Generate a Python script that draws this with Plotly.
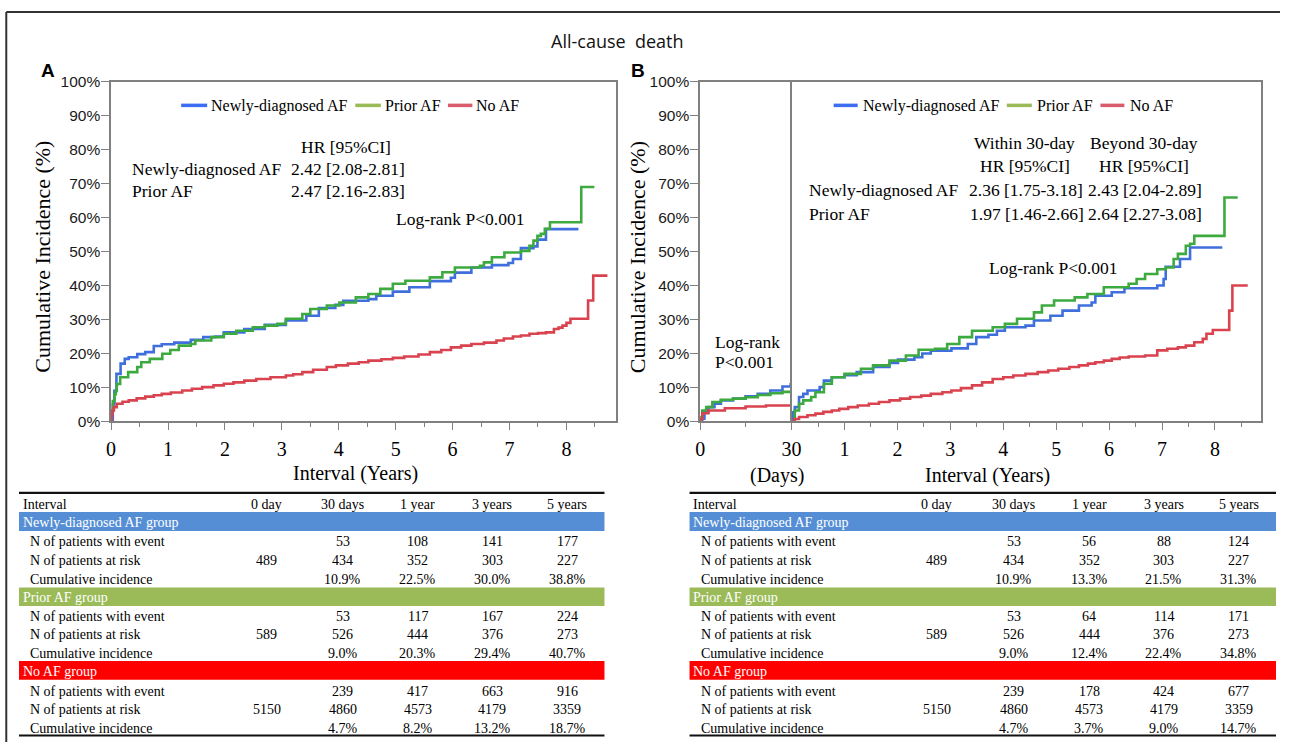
import plotly.graph_objects as go

# ---------------- data ----------------
# Panel A: whole follow-up, years
A_new_t = [0, 0.03, 0.058, 0.094, 0.167, 0.24, 0.31, 0.46, 0.6, 0.75, 0.89, 1.11, 1.4, 1.62, 1.83, 1.98, 2.34, 2.7,
           3.07, 3.43, 3.65, 3.94, 4.08, 4.52, 4.66, 4.95, 5.24, 5.6, 5.97, 6.04, 6.33, 6.69, 6.98, 7.06, 7.2, 7.42,
           7.49, 7.64, 8.21]
A_new_v = [0, 5, 9, 14, 17, 18.4, 18.9, 19.8, 20.4, 22.2, 22.7, 23.2, 24, 24.8, 25, 26.2, 27.2, 28.4,
           29.7, 31.1, 33.4, 34.3, 35.5, 36, 37, 38.2, 39.5, 41.3, 42.3, 43.8, 45.3, 46, 46.6, 47.8, 51, 51.5,
           53.5, 56.6, 56.6]

A_prior_t = [0, 0.01, 0.03, 0.06, 0.082, 0.1, 0.16, 0.3, 0.46, 0.53, 0.68, 0.9, 1.04, 1.19, 1.4, 1.48, 1.76, 1.98,
             2.2, 2.49, 2.7, 2.92, 3.07, 3.36, 3.5, 3.79, 4.01, 4.3, 4.52, 4.73, 4.95, 5.17, 5.6, 5.82, 6.04, 6.48,
             6.55, 6.69, 6.91, 7.2, 7.35, 7.42, 7.49, 7.55, 7.62, 7.71, 8.26, 8.49]
A_prior_v = [0, 3, 6, 8, 9, 11, 13, 14.5, 16, 17.4, 18.4, 19.9, 21, 22.3, 22.8, 23.8, 24.8, 25.8,
             26.7, 27.7, 28.2, 28.7, 30.2, 31.6, 33.1, 34.1, 35, 36.5, 37.5, 39, 40.5, 41.4, 42.4, 43.9, 45.3, 45.8,
             46.8, 48.3, 49.7, 50.2, 51.7, 53.2, 54.6, 55.2, 56.7, 58.6, 69, 69]

A_none_t = [0, 0.01, 0.02, 0.05, 0.1, 0.2, 0.31, 0.45, 0.6, 0.75, 0.89, 1.05, 1.25, 1.42, 1.6, 1.8, 1.98, 2.15,
            2.34, 2.55, 2.8, 3.07, 3.2, 3.36, 3.55, 3.79, 3.95, 4.16, 4.35, 4.52, 4.75, 4.95, 5.15, 5.4, 5.6, 5.8,
            5.97, 6.15, 6.33, 6.55, 6.77, 6.9, 7.06, 7.2, 7.35, 7.5, 7.64, 7.78, 7.86, 7.93, 8.0, 8.07, 8.38, 8.47,
            8.72]
A_none_v = [0, 2.0, 3.2, 4.2, 5.2, 5.8, 6.2, 6.8, 7.3, 7.7, 8.1, 8.5, 9.1, 9.6, 10.1, 10.6, 11.1, 11.5,
            12.0, 12.5, 13.0, 13.5, 13.9, 14.5, 15.2, 16.0, 16.5, 17.0, 17.4, 17.9, 18.3, 18.7, 19.1, 19.7, 20.4, 21.0,
            21.8, 22.3, 22.8, 23.2, 23.8, 24.4, 25.0, 25.3, 25.8, 26.0, 26.2, 27.2, 27.6, 28.2, 29.0, 30.2, 35.6, 42.9,
            42.9]

# Panel B: within 30 days (days)
Bd_new_t = [0, 0.7, 1.4, 2.7, 4.7, 6.8, 10.8, 14.9, 18.9, 23, 27, 29.7, 30]
Bd_new_v = [0, 0.8, 2.7, 4.2, 5.2, 6.2, 6.7, 7.4, 8.1, 9.1, 10.3, 10.9, 10.9]
Bd_prior_t = [0, 0.3, 0.7, 2, 4, 6.8, 10.8, 14.9, 18.9, 23, 27, 30]
Bd_prior_v = [0, 1.3, 3.2, 4.2, 5.7, 6.4, 6.7, 7.1, 7.8, 8.3, 8.7, 9.0]
Bd_none_t = [0, 0.3, 0.7, 2.7, 8.1, 14.9, 21.6, 30]
Bd_none_v = [0, 0.8, 2.4, 3.2, 3.9, 4.4, 4.7, 4.8]

# Panel B: beyond 30 days (years)
By_new_t = [0, 0.02, 0.06, 0.14, 0.22, 0.3, 0.53, 0.61, 0.76, 1.0, 1.23, 1.54, 1.85, 2.01, 2.32, 2.47, 2.63, 3.02,
            3.33, 3.49, 3.72, 3.88, 4.03, 4.42, 4.58, 4.89, 5.12, 5.43, 5.67, 5.74, 6.05, 6.29, 6.91, 7.03, 7.07, 7.34,
            7.53, 8.14]
By_new_v = [0, 2.7, 4.2, 7.2, 8.1, 9.1, 10.1, 12, 13.0, 13.6, 14.5, 16.0, 17.2, 18.2, 18.9, 20.0, 20.8, 21.5,
            22.8, 24.8, 25.5, 26.7, 27.7, 28.2, 29.7, 31.1, 32.6, 34.1, 35, 37, 38, 39.2, 40, 41.9, 45.5, 47.8,
            51.2, 51.2]
By_prior_t = [0, 0.06, 0.14, 0.22, 0.37, 0.45, 0.61, 0.76, 1.0, 1.31, 1.54, 1.85, 2.16, 2.4, 2.71, 2.94, 3.17, 3.41,
              3.8, 4.03, 4.26, 4.58, 4.73, 4.96, 5.35, 5.59, 5.9, 6.37, 6.52, 6.68, 6.91, 7.07, 7.22, 7.3, 7.45, 7.53,
              7.61, 8.18, 8.43]
By_prior_v = [0, 3.2, 5.2, 6.2, 7.2, 8.6, 11.1, 13.0, 14.0, 15.5, 16.5, 17.9, 19.4, 21.1, 21.4, 22.8, 24.8, 26.7,
              27.7, 28.7, 30.2, 32.1, 34.1, 35.6, 36.5, 37.5, 39.5, 40.5, 41.9, 43.4, 44.8, 45.3, 47.8, 49.3, 51.7, 52.3,
              54.6, 65.9, 65.9]
By_none_t = [0, 0.05, 0.14, 0.3, 0.45, 0.6, 0.76, 0.9, 1.07, 1.25, 1.46, 1.65, 1.85, 2.05, 2.24, 2.45, 2.63, 2.85,
             3.02, 3.2, 3.41, 3.6, 3.8, 4.0, 4.19, 4.42, 4.65, 4.85, 5.04, 5.25, 5.43, 5.6, 5.74, 5.9, 6.05, 6.2, 6.37,
             6.68, 6.91, 7.1, 7.3, 7.45, 7.61, 7.77, 7.84, 7.96, 8.27, 8.33, 8.62]
By_none_v = [0, 0.7, 1.3, 1.8, 2.3, 2.8, 3.2, 3.7, 4.2, 4.7, 5.2, 5.7, 6.2, 6.7, 7.2, 7.6, 8.1, 8.6,
             9.1, 9.8, 10.6, 11.5, 12.5, 13.0, 13.5, 14.0, 14.5, 15.0, 15.5, 16.0, 16.5, 17.0, 17.4, 17.9, 18.4, 18.8,
             19.1, 19.4, 20.9, 21.4, 21.8, 22.3, 23.3, 24.3, 25.8, 26.9, 32.6, 40, 40]

series_names = ["Newly-diagnosed AF", "Prior AF", "No AF"]

# Tables
table_cols = ["0 day", "30 days", "1 year", "3 years", "5 years"]
row_labels = ["N of patients with event", "N of patients at risk", "Cumulative incidence"]
group_labels = ["Newly-diagnosed AF group", "Prior AF group", "No AF group"]

tabA_new = [["", "53", "108", "141", "177"], ["489", "434", "352", "303", "227"], ["", "10.9%", "22.5%", "30.0%", "38.8%"]]
tabA_prior = [["", "53", "117", "167", "224"], ["589", "526", "444", "376", "273"], ["", "9.0%", "20.3%", "29.4%", "40.7%"]]
tabA_none = [["", "239", "417", "663", "916"], ["5150", "4860", "4573", "4179", "3359"], ["", "4.7%", "8.2%", "13.2%", "18.7%"]]
tabB_new = [["", "53", "56", "88", "124"], ["489", "434", "352", "303", "227"], ["", "10.9%", "13.3%", "21.5%", "31.3%"]]
tabB_prior = [["", "53", "64", "114", "171"], ["589", "526", "444", "376", "273"], ["", "9.0%", "12.4%", "22.4%", "34.8%"]]
tabB_none = [["", "239", "178", "424", "677"], ["5150", "4860", "4573", "4179", "3359"], ["", "4.7%", "3.7%", "9.0%", "14.7%"]]

# ---------------- styling ----------------
W, H = 1290, 750
# the page shows the figure inside an 8 px inset; map screen pixels to paper fractions accordingly
OX, OY, SW, SH = 8.0, 8.0, 1274.0, 734.0
def px(x): return (x - OX) / SW
def py(y): return 1 - (y - OY) / SH

SERIF = "Liberation Serif, Times New Roman, serif"
SANS = "Liberation Sans, Arial, sans-serif"
C_LINE = ["#3F6FDC", "#3DAA3F", "#D9434F"]
C_LEG = ["#3D6DF2", "#9BBB59", "#D95B6C"]
C_BAND = ["#558ED5", "#9BBB59", "#FF0000"]
AX = "#808080"

fig = go.Figure()

def add(t, v, i, xa, ya):
    fig.add_trace(go.Scatter(x=t, y=v, mode="lines", line=dict(color=C_LINE[i], width=2.6, shape="hv"),
                             name=series_names[i], xaxis=xa, yaxis=ya, showlegend=False, hoverinfo="x+y"))

for i, (t, v) in enumerate([(A_new_t, A_new_v), (A_prior_t, A_prior_v), (A_none_t, A_none_v)]):
    add(t, v, i, "x", "y")
for i, (t, v) in enumerate([(Bd_new_t, Bd_new_v), (Bd_prior_t, Bd_prior_v), (Bd_none_t, Bd_none_v)]):
    add(t, v, i, "x2", "y2")
for i, (t, v) in enumerate([(By_new_t, By_new_v), (By_prior_t, By_prior_v), (By_none_t, By_none_v)]):
    add(t, v, i, "x3", "y3")

ydom = [py(421), py(80.7)]
xtickfont = dict(family=SERIF, size=20, color="black")
ytickfont = dict(family=SANS, size=15.5, color="#1a1a1a")
common_x = dict(showline=True, linecolor=AX, linewidth=1.6, mirror=True, ticks="outside", ticklen=7,
                tickwidth=1.4, tickcolor=AX, showgrid=False, zeroline=False, tickfont=xtickfont,
                ticklabelstandoff=2)
common_y = dict(domain=ydom, range=[0, 100], showline=True, linecolor=AX, linewidth=1.6,
                showgrid=False, zeroline=False)

fig.update_layout(
    width=W, height=H, autosize=False, margin=dict(l=0, r=0, t=0, b=0),
    paper_bgcolor="white", plot_bgcolor="white", showlegend=False,
    xaxis=dict(domain=[px(114), px(618.5)], range=[0, 8.87], anchor="y", dtick=1, tick0=0,
               minor=dict(dtick=0.5, tick0=0, ticks="outside", ticklen=4, tickcolor=AX, tickwidth=1.4),
               **common_x),
    yaxis=dict(anchor="x", ticks="outside", ticklen=8, tickwidth=1.4, tickcolor=AX, dtick=10, mirror=True,
               ticksuffix="%", tickfont=ytickfont, ticklabelstandoff=-2, **common_y),
    xaxis2=dict(domain=[px(702.6), px(794)], range=[0, 30], anchor="y2", dtick=30, tick0=0,
                minor=dict(dtick=15, tick0=0, ticks="outside", ticklen=4, tickcolor=AX, tickwidth=1.4),
                **common_x),
    yaxis2=dict(anchor="x2", ticks="outside", ticklen=8, tickwidth=1.4, tickcolor=AX, dtick=10, mirror=False,
                ticksuffix="%", tickfont=ytickfont, ticklabelstandoff=-2, **common_y),
    xaxis3=dict(domain=[px(794), px(1263.5)], range=[0, 8.88], anchor="y3",
                tickmode="array", tickvals=[1, 2, 3, 4, 5, 6, 7, 8],
                minor=dict(tickmode="array", tickvals=[0.5, 1.5, 2.5, 3.5, 4.5, 5.5, 6.5, 7.5, 8.5],
                           ticks="outside", ticklen=4, tickcolor=AX, tickwidth=1.4),
                **common_x),
    yaxis3=dict(anchor="x3", ticks="", showticklabels=False, mirror=True, **common_y),
)

ann = []
def text(s, x, y, size, family=SERIF, xanchor="center", color="black", bold=False, angle=0):
    if bold:
        s = "<b>" + s + "</b>"
    ann.append(dict(text=s, x=px(x), y=py(y), xref="paper", yref="paper", xanchor=xanchor, yanchor="middle",
                    showarrow=False, textangle=angle, font=dict(family=family, size=size, color=color)))

# titles and panel letters
text("All-cause&nbsp;&nbsp;death", 620, 40, 18, family="Open Sans, sans-serif", color="#111")
text("A", 51, 70, 19, family=SANS, bold=True)
text("B", 641, 70, 19, family=SANS, bold=True)

# axis titles
text("Cumulative Incidence (%)", 46, 256, 22, angle=-90)
text("Cumulative Incidence (%)", 640, 256, 22, angle=-90)
text("Interval (Years)", 358, 473, 20)
text("Interval (Years)", 990, 475, 20)
text("(Days)", 779, 475, 20)

# legends (drawn manually)
shapes = []
def hline(x0, x1, y, color, width):
    shapes.append(dict(type="line", xref="paper", yref="paper", x0=px(x0), x1=px(x1), y0=py(y), y1=py(y),
                       line=dict(color=color, width=width)))

leg_A = [(184, 210, 212), (358, 383.5, 386), (450.6, 475, 477)]
leg_B = [(836, 860, 863), (1009, 1034, 1037), (1102.6, 1126.5, 1130)]
for legpos in (leg_A, leg_B):
    for i, (a, b, tx) in enumerate(legpos):
        hline(a, b, 104.5, C_LEG[i], 3.5)
        text(series_names[i], tx, 105, 16, xanchor="left")

# HR annotations, panel A
text("HR [95%CI]", 349, 146, 17.5)
text("Newly-diagnosed AF", 132.5, 168.5, 17.5, xanchor="left")
text("2.42 [2.08-2.81]", 292, 168.5, 17.5, xanchor="left")
text("Prior AF", 132.5, 190.5, 17.5, xanchor="left")
text("2.47 [2.16-2.83]", 292, 190.5, 17.5, xanchor="left")
text("Log-rank P<0.001", 463, 218, 17.5)

# HR annotations, panel B
text("Within 30-day", 1027, 142, 17.5)
text("Beyond 30-day", 1146, 142, 17.5)
text("HR [95%CI]", 1027, 165, 17.5)
text("HR [95%CI]", 1146, 165, 17.5)
text("Newly-diagnosed AF", 809.6, 189.5, 17.5, xanchor="left")
text("2.36 [1.75-3.18]", 969, 189.5, 17.5, xanchor="left")
text("2.43 [2.04-2.89]", 1088, 189.5, 17.5, xanchor="left")
text("Prior AF", 809.6, 213, 17.5, xanchor="left")
text("1.97 [1.46-2.66]", 970, 213, 17.5, xanchor="left")
text("2.64 [2.27-3.08]", 1088, 213, 17.5, xanchor="left")
text("Log-rank P<0.001", 1055, 267.5, 17.5)
text("Log-rank", 715, 341.5, 17.5, xanchor="left")
text("P<0.001", 715, 361.5, 17.5, xanchor="left")

# ---------------- tables ----------------
def draw_table(x0, x1, col_centers, tabs):
    label_x = x0 + 9
    group_x = x0 + 1.5
    shapes.append(dict(type="line", xref="paper", yref="paper", x0=px(x0), x1=px(x1), y0=py(492.5), y1=py(492.5),
                       line=dict(color="#111", width=2.2)))
    shapes.append(dict(type="line", xref="paper", yref="paper", x0=px(x0), x1=px(x1), y0=py(735.5), y1=py(735.5),
                       line=dict(color="#111", width=2.2)))
    text("Interval", group_x, 504, 14, xanchor="left")
    for c, cx in zip(table_cols, col_centers):
        text(c, cx, 504, 14)
    bands = [(511.7, 530.7), (587.3, 605.7), (661, 679.7)]
    rows_y = [[541.7, 560.7, 579.3], [616.7, 634.3, 653], [691.3, 709.3, 728]]
    for g in range(3):
        b0, b1 = bands[g]
        shapes.append(dict(type="rect", xref="paper", yref="paper", x0=px(x0), x1=px(x1), y0=py(b1), y1=py(b0),
                           fillcolor=C_BAND[g], line=dict(width=0), layer="below"))
        text(group_labels[g], group_x, (b0 + b1) / 2 + 1, 14, xanchor="left", color="white")
        for r in range(3):
            yy = rows_y[g][r]
            text(row_labels[r], label_x, yy, 14, xanchor="left")
            for cval, cx in zip(tabs[g][r], col_centers):
                if cval:
                    text(cval, cx, yy, 14)

draw_table(22, 607, [269.5, 345.7, 420.6, 495, 570], [tabA_new, tabA_prior, tabA_none])
draw_table(692, 1278, [939, 1016, 1091.5, 1165.6, 1241], [tabB_new, tabB_prior, tabB_none])

# outer frame
shapes.append(dict(type="line", xref="paper", yref="paper", x0=0.001, x1=1, y0=py(11), y1=py(11),
                   line=dict(color="#333", width=2)))
shapes.append(dict(type="line", xref="paper", yref="paper", x0=0.001, x1=0.001, y0=py(11), y1=0,
                   line=dict(color="#333", width=2)))

fig.update_layout(annotations=ann, shapes=shapes)
fig.write_html("out.html",
               config={"displayModeBar": False, "responsive": False},
               post_script="document.documentElement.style.margin='0';document.documentElement.style.padding='0';"
                           "document.documentElement.style.overflow='hidden';"
                           "document.body.style.margin='0';document.body.style.padding='0';"
                           "document.body.style.overflow='hidden';")
